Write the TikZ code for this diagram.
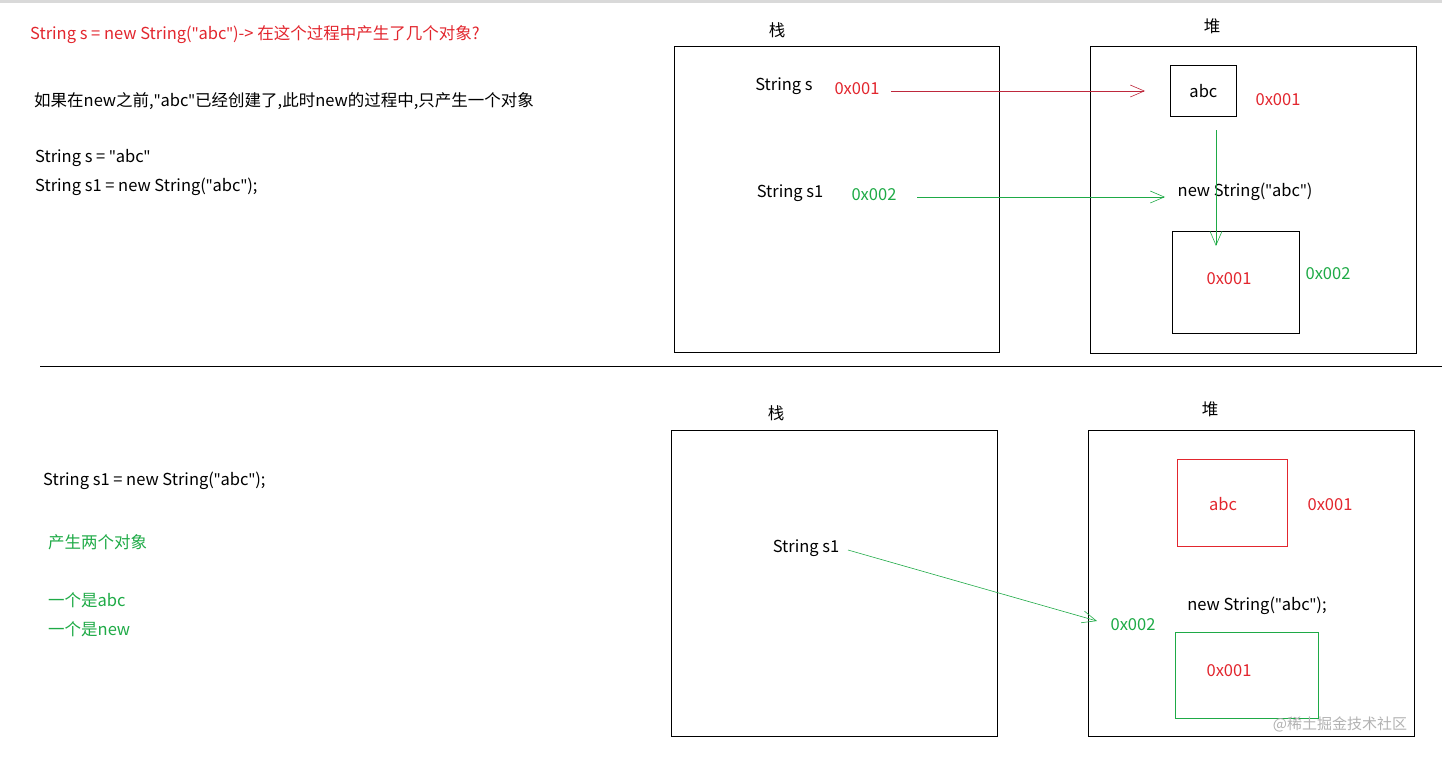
\documentclass[tikz,border=0pt]{standalone}
\usepackage{fontspec}
\setmainfont{Noto Sans CJK SC}
\newfontfamily\qf{Noto Sans}
\newcommand{\dq}{{\qf\symbol{34}}}
\usetikzlibrary{arrows.meta}
\definecolor{cr}{RGB}{226,38,46}
\definecolor{cg}{RGB}{30,170,70}
\definecolor{car}{RGB}{190,40,60}
\tikzset{
 box/.style={draw=black,line width=0.8pt},
 t/.style={inner sep=0pt,font=\fontsize{16.5}{19}\selectfont},
 tl/.style={t,anchor=west},
 arr/.style={-{Straight Barb[length=14pt,width=12pt]},line width=0.6pt},
}
\begin{document}
\begin{tikzpicture}[x=1pt,y=-1pt]
\useasboundingbox (0,0) rectangle (1442,756);
\fill[gray!30] (0,0) rectangle (1442,3);
% top
\node[tl,text=cr] (title) at (30,35) {String s = new String(\dq abc\dq)-> 在这个过程中产生了几个对象?};
\node[tl] (l1) at (34,101) {如果在new之前,\dq abc\dq 已经创建了,此时new的过程中,只产生一个对象};
\node[tl] (l2) at (35,158) {String s = \dq abc\dq};
\node[tl] (l3) at (35,187) {String s1 = new String(\dq abc\dq);};
\node[box,minimum width=325,minimum height=306,anchor=north west] (st1) at (674,46) {};
\node[box,minimum width=326,minimum height=307,anchor=north west] (hp1) at (1090,46) {};
\node[t] (zl1) at (777,30) {栈};
\node[t] (dl1) at (1212,26) {堆};
\node[t] (ss) at (784,86) {String s};
\node[t,text=cr] (a1) at (857,89) {0x001};
\node[box,minimum width=66,minimum height=51,anchor=north west,t] (abc1) at (1170,65) {};
\node[t] at (abc1.center) {abc};
\node[t,text=cr] (a2) at (1278,100) {0x001};
\coordinate (r1s) at (891,91); \coordinate (r1e) at (1145,91);
\draw[arr,car] (r1s) -- (r1e);
\node[t] (ss1) at (790,193) {String s1};
\node[t,text=cg] (g1) at (874,195) {0x002};
\coordinate (g1s) at (917,197); \coordinate (g1e) at (1165,197);
\draw[arr,cg] (g1s) -- (g1e);
\node[t] (ns1) at (1245,192) {new String(\dq abc\dq)};
\node[box,minimum width=127,minimum height=102,anchor=north west] (ob1) at (1172,231) {};
\node[t,text=cr] at (1229,279) {0x001};
\node[t,text=cg] at (1328,274) {0x002};
\coordinate (v1s) at (1216,130); \coordinate (v1e) at (1216,246);
\draw[arr,cg] (v1s) -- (v1e);
% divider
\coordinate (d1) at (40,366); \coordinate (d2) at (1442,366);
\draw[line width=0.6pt] (d1) -- (d2);
% bottom
\node[tl] (b1) at (43,481) {String s1 = new String(\dq abc\dq);};
\node[tl,text=cg] (b2) at (48,542) {产生两个对象};
\node[tl,text=cg] (b3) at (48,600) {一个是abc};
\node[tl,text=cg] (b4) at (48,629) {一个是new};
\node[box,minimum width=326,minimum height=306,anchor=north west] (st2) at (671,430) {};
\node[box,minimum width=326,minimum height=306,anchor=north west] (hp2) at (1088,430) {};
\node[t] at (776,413) {栈};
\node[t] at (1210,409) {堆};
\node[t] (bs1) at (806,548) {String s1};
\node[draw=cr,line width=0.8pt,minimum width=110,minimum height=87,anchor=north west] (rb) at (1177,459) {};
\node[t,text=cr] at (1223,504) {abc};
\node[t,text=cr] at (1330,505) {0x001};
\node[t] at (1257,606) {new String(\dq abc\dq);};
\node[t,text=cg] (bg) at (1133,625) {0x002};
\node[draw=cg,line width=0.8pt,minimum width=143,minimum height=86,anchor=north west] (gb) at (1175,632) {};
\node[t,text=cr] at (1229,671) {0x001};
\coordinate (b2s) at (848,550); \coordinate (b2e) at (1097,621);
\draw[arr,cg] (b2s) -- (b2e);
\node[t,text=gray!60,font=\fontsize{15}{18}\selectfont] at (1340,724) {@稀土掘金技术社区};
\end{tikzpicture}
\end{document}
